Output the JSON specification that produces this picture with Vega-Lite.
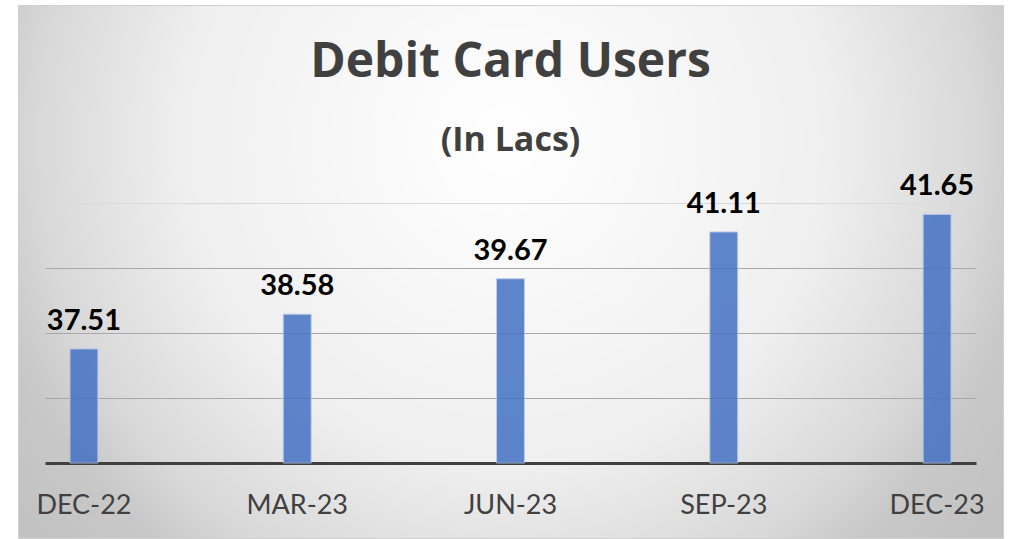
{
  "$schema": "https://vega.github.io/schema/vega-lite/v6.json",
  "autosize": {"type": "none"},
  "width": 985,
  "height": 533,
  "padding": {"left": 18, "top": 5, "right": 9, "bottom": 1},
  "background": "#ffffff",
  "config": {
    "view": {
      "fill": {"gradient": "radial", "x1": 0.495, "y1": 0.366, "r1": 0, "x2": 0.495, "y2": 0.366, "r2": 0.62,
        "stops": [
          {"offset": 0, "color": "#ffffff"},
          {"offset": 0.1, "color": "#fcfcfc"},
          {"offset": 0.53, "color": "#efefef"},
          {"offset": 0.77, "color": "#d8d8d8"},
          {"offset": 0.87, "color": "#c8c8c8"},
          {"offset": 1, "color": "#c2c2c2"}
        ]},
      "stroke": "#d0d0d0",
      "strokeWidth": 1
    }
  },
  "title": {
    "text": "Debit Card Users",
    "subtitle": "(In Lacs)",
    "anchor": "middle",
    "frame": "group",
    "font": "Open Sans",
    "fontSize": 48,
    "fontWeight": "bold",
    "color": "#404040",
    "subtitleFont": "Open Sans",
    "subtitleFontSize": 34,
    "subtitleFontWeight": "bold",
    "subtitleColor": "#404040",
    "subtitlePadding": 37,
    "offset": -153
  },
  "data": {
    "values": [
      {"period": "DEC-22", "users": 37.51},
      {"period": "MAR-23", "users": 38.58},
      {"period": "JUN-23", "users": 39.67},
      {"period": "SEP-23", "users": 41.11},
      {"period": "DEC-23", "users": 41.65}
    ]
  },
  "encoding": {
    "x": {
      "field": "period",
      "type": "nominal",
      "sort": null,
      "scale": {"range": [27, 958], "paddingInner": 0.869, "paddingOuter": 0.117},
      "axis": {
        "title": null,
        "orient": "bottom",
        "offset": -75,
        "domain": true,
        "domainColor": "#404040",
        "domainWidth": 3,
        "ticks": false,
        "labelAngle": 0,
        "labelFont": "Lato",
        "labelFontSize": 27,
        "labelColor": "#404040",
        "labelPadding": 29,
        "grid": false
      }
    },
    "y": {
      "field": "users",
      "type": "quantitative",
      "scale": {"domain": [31.6923, 48.0923], "nice": false, "zero": false},
      "axis": {
        "title": null,
        "labels": false,
        "ticks": false,
        "domain": false,
        "grid": true,
        "values": [36, 38, 40, 42],
        "gridColor": {"condition": {"test": "datum.value === 42", "value": "#dadada"}, "value": "#a8a8a8"},
        "gridWidth": 1.2
      }
    }
  },
  "layer": [
    {
      "mark": {"type": "bar", "color": "#4472C4", "opacity": 0.85, "stroke": "#b4c7e7", "strokeWidth": 1},
      "encoding": {"y2": {"datum": 34}}
    },
    {
      "mark": {"type": "text", "font": "Lato", "fontSize": 29, "fontWeight": "bold", "color": "#000000", "baseline": "alphabetic", "dy": -19},
      "encoding": {"text": {"field": "users", "type": "quantitative", "format": ".2f"}}
    }
  ]
}
